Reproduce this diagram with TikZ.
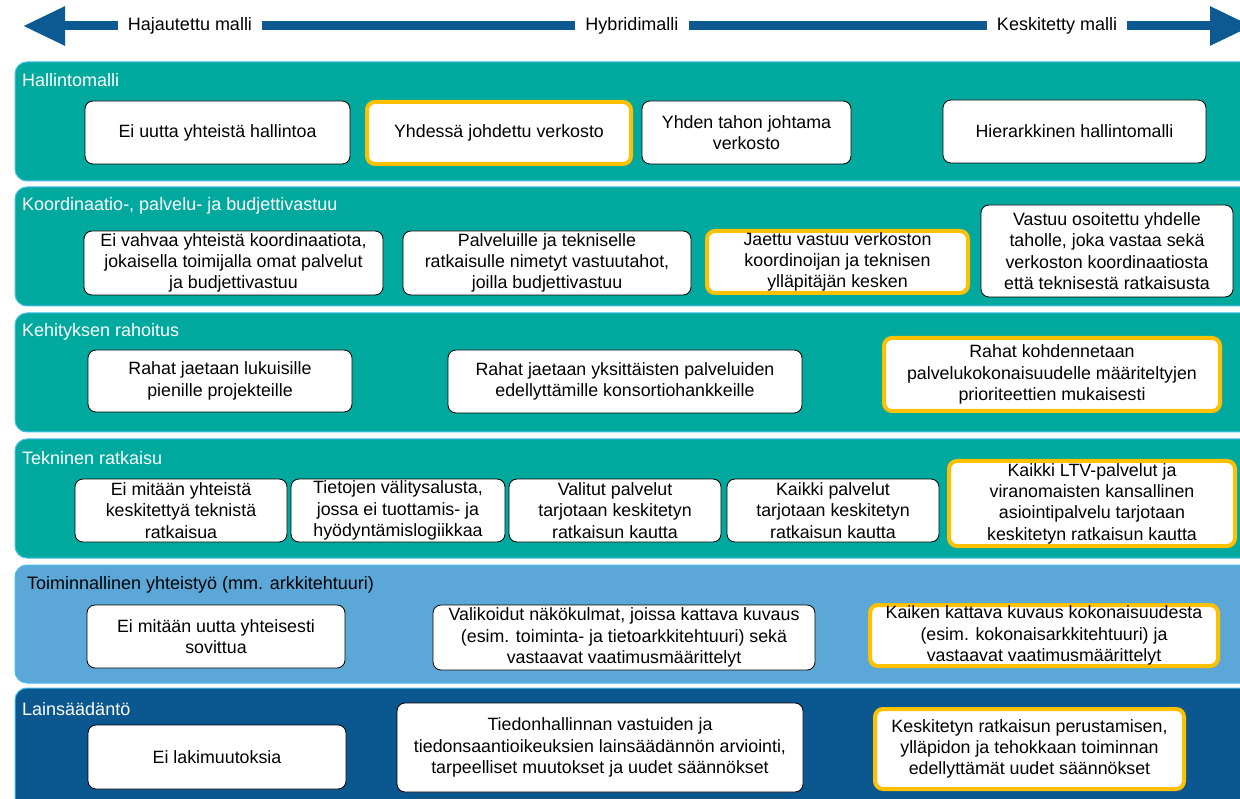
\documentclass[tikz,border=0pt]{standalone}
\usepackage{fontspec}
\setmainfont{Liberation Sans}
\usetikzlibrary{arrows.meta}

\definecolor{bandteal}{RGB}{0,169,158}
\definecolor{bandsky}{RGB}{91,167,216}
\definecolor{bandnavy}{RGB}{11,87,143}
\definecolor{bandedge}{RGB}{70,190,235}
\definecolor{axisblue}{RGB}{12,90,145}
\definecolor{pickgold}{RGB}{255,192,0}

\tikzset{
  band/.style={draw=bandedge, line width=1pt, rounded corners=12pt},
  bandlabel/.style={anchor=west, inner sep=0pt, text=white, font=\fontsize{18}{21}\selectfont},
  box/.style={draw=black, line width=0.8pt, fill=white, rounded corners=8pt,
    align=center, inner sep=0pt, font=\fontsize{17.8}{21.3}\selectfont},
  picked/.style={box, draw=pickgold, line width=4pt},
  axisline/.style={draw=axisblue, line width=9pt},
  axislabel/.style={inner xsep=10pt, inner ysep=0pt, font=\fontsize{18}{21}\selectfont}
}

\begin{document}
\begin{tikzpicture}[x=1pt, y=-1pt]
\clip (0,0) rectangle (1240,799);
\useasboundingbox (0,0) rectangle (1240,799);

%% top scale
\coordinate (west) at (23,26);
\coordinate (east) at (1252,26);
\node[axislabel] (hajautettu) at (190,26) {Hajautettu malli};
\node[axislabel] (hybridi) at (632,26) {Hybridimalli};
\node[axislabel] (keskitetty) at (1057,26) {Keskitetty malli};
\draw[axisline, -{Triangle[length=42pt, width=37pt]}] (hajautettu) -- (west);
\draw[axisline] (hajautettu) -- (hybridi);
\draw[axisline] (hybridi) -- (keskitetty);
\draw[axisline, -{Triangle[length=42pt, width=37pt]}] (keskitetty) -- (east);

%% bands
\fill[bandteal, band] (15,62) rectangle (1265,181);
\fill[bandteal, band] (15,187) rectangle (1265,306);
\fill[bandteal, band] (15,313) rectangle (1265,432);
\fill[bandteal, band] (15,439) rectangle (1265,558);
\fill[bandsky, band] (15,565) rectangle (1265,683);
\fill[bandnavy, band] (15,688) rectangle (1265,820);

\node[bandlabel] (hallinto) at (22,80) {Hallintomalli};
\node[bandlabel] (vastuu) at (22,206) {Koordinaatio-, palvelu- ja budjettivastuu};
\node[bandlabel] (rahoitus) at (22,332) {Kehityksen rahoitus};
\node[bandlabel] (tekninen) at (22,458) {Tekninen ratkaisu};
\node[bandlabel, text=black] (yhteistyo) at (27,585) {Toiminnallinen yhteistyö (mm. arkkitehtuuri)};
\node[bandlabel] (laki) at (22,709) {Lainsäädäntö};

%% Hallintomalli
\node[box, minimum width=265pt, minimum height=63pt] (h1) at (217.5,132.5) {Ei uutta yhteistä hallintoa};
\node[picked, minimum width=264pt, minimum height=62pt] (h2) at (499,133) {Yhdessä johdettu verkosto};
\node[box, minimum width=209pt, minimum height=63pt] (h3) at (746.5,132.5) {Yhden tahon johtama\\verkosto};
\node[box, minimum width=263pt, minimum height=63pt] (h4) at (1074.5,131.5) {Hierarkkinen hallintomalli};

%% vastuu
\node[box, minimum width=299pt, minimum height=64pt] (k1) at (233.5,263) {Ei vahvaa yhteistä koordinaatiota,\\jokaisella toimijalla omat palvelut\\ja budjettivastuu};
\node[box, minimum width=288pt, minimum height=64pt] (k2) at (547,263) {Palveluille ja tekniselle\\ratkaisulle nimetyt vastuutahot,\\joilla budjettivastuu};
\node[picked, minimum width=261pt, minimum height=62pt] (k3) at (837.5,262) {Jaettu vastuu verkoston\\koordinoijan ja teknisen\\ylläpitäjän kesken};
\node[box, minimum width=252pt, minimum height=92pt] (k4) at (1107,251) {Vastuu osoitettu yhdelle\\taholle, joka vastaa sekä\\verkoston koordinaatiosta\\että teknisestä ratkaisusta};

%% rahoitus
\node[box, minimum width=264pt, minimum height=62pt] (r1) at (220,381) {Rahat jaetaan lukuisille\\pienille projekteille};
\node[box, minimum width=354pt, minimum height=63pt] (r2) at (625,381.5) {Rahat jaetaan yksittäisten palveluiden\\edellyttämille konsortiohankkeille};
\node[picked, minimum width=336pt, minimum height=73pt] (r3) at (1052,374.5) {Rahat kohdennetaan\\palvelukokonaisuudelle määriteltyjen\\prioriteettien mukaisesti};

%% tekninen
\node[box, minimum width=212pt, minimum height=63pt] (t1) at (181,510.5) {Ei mitään yhteistä\\keskitettyä teknistä\\ratkaisua};
\node[box, minimum width=214pt, minimum height=63pt] (t2) at (398,510.5) {Tietojen välitysalusta,\\jossa ei tuottamis- ja\\hyödyntämislogiikkaa};
\node[box, minimum width=212pt, minimum height=63pt] (t3) at (615,510.5) {Valitut palvelut\\tarjotaan keskitetyn\\ratkaisun kautta};
\node[box, minimum width=212pt, minimum height=63pt] (t4) at (833,510.5) {Kaikki palvelut\\tarjotaan keskitetyn\\ratkaisun kautta};
\node[picked, minimum width=286pt, minimum height=85pt] (t5) at (1092,503.5) {Kaikki LTV-palvelut ja\\viranomaisten kansallinen\\asiointipalvelu tarjotaan\\keskitetyn ratkaisun kautta};

%% yhteistyo
\node[box, minimum width=258pt, minimum height=63pt] (f1) at (216,636.5) {Ei mitään uutta yhteisesti\\sovittua};
\node[box, minimum width=382pt, minimum height=65pt] (f2) at (624,637.5) {Valikoidut näkökulmat, joissa kattava kuvaus\\(esim. toiminta- ja tietoarkkitehtuuri) sekä\\vastaavat vaatimusmäärittelyt};
\node[picked, minimum width=348pt, minimum height=61pt] (f3) at (1044,635.5) {Kaiken kattava kuvaus kokonaisuudesta\\(esim. kokonaisarkkitehtuuri) ja\\vastaavat vaatimusmäärittelyt};

%% laki
\node[box, minimum width=258pt, minimum height=64pt] (l1) at (217,757) {Ei lakimuutoksia};
\node[box, minimum width=406pt, minimum height=89pt] (l2) at (600,747.5) {Tiedonhallinnan vastuiden ja\\tiedonsaantioikeuksien lainsäädännön arviointi,\\tarpeelliset muutokset ja uudet säännökset};
\node[picked, minimum width=309pt, minimum height=80pt] (l3) at (1029.5,749) {Keskitetyn ratkaisun perustamisen,\\ylläpidon ja tehokkaan toiminnan\\edellyttämät uudet säännökset};
\end{tikzpicture}
\end{document}
